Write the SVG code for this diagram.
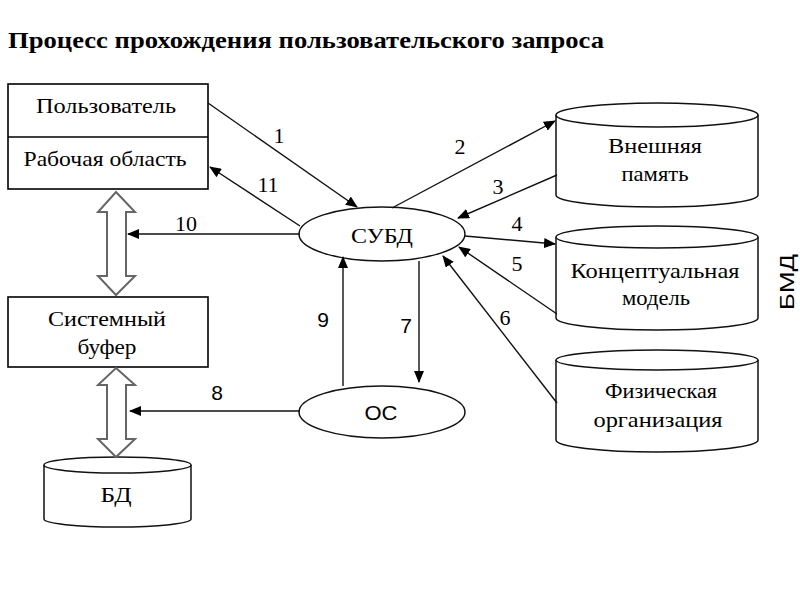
<svg xmlns="http://www.w3.org/2000/svg" width="800" height="600" viewBox="0 0 800 600" font-family="Liberation Serif, Times New Roman, serif">
<style>
.box{fill:#fff;stroke:#000;stroke-width:1.6}
.shape{fill:#fff;stroke:#111;stroke-width:1.5}
.t{font-size:22px;fill:#000;text-anchor:middle}
.s{font-family:Liberation Sans, Arial, sans-serif;font-size:21px;fill:#000;text-anchor:middle}
.conn{stroke:#111;stroke-width:1.4;fill:none}
.dbl{fill:#fff;stroke:#666;stroke-width:2}
</style>
<defs>
<marker id="ah" markerWidth="12" markerHeight="10" refX="11" refY="5" orient="auto" markerUnits="userSpaceOnUse">
<path d="M0,0 L12,5 L0,10 Z" fill="#000"/>
</marker>
</defs>
<rect width="800" height="600" fill="#fff"/>
<text x="8" y="48" font-weight="bold" font-size="23" textLength="596" lengthAdjust="spacingAndGlyphs">Процесс прохождения пользовательского запроса</text>

<g id="user">
<rect class="box" x="8" y="84" width="200" height="105"/>
<line x1="8" y1="137" x2="208" y2="137" stroke="#000" stroke-width="1.6"/>
<text class="t" x="106" y="113" textLength="140" lengthAdjust="spacingAndGlyphs">Пользователь</text>
<text class="t" x="105" y="166" textLength="163" lengthAdjust="spacingAndGlyphs">Рабочая область</text>
</g>

<g id="buffer">
<rect class="box" x="8" y="297" width="200" height="70"/>
<text class="t" x="107" y="326" textLength="118" lengthAdjust="spacingAndGlyphs">Системный</text>
<text class="t" x="107" y="354" textLength="59" lengthAdjust="spacingAndGlyphs">буфер</text>
</g>

<g id="bd">
<path class="shape" d="M44,465 L44,519 A73.5,8 0 0 0 191,519 L191,465"/>
<ellipse class="shape" cx="117.5" cy="465" rx="73.5" ry="8"/>
<text class="t" x="116" y="502" textLength="31" lengthAdjust="spacingAndGlyphs">БД</text>
</g>

<g id="subd">
<ellipse class="shape" cx="382" cy="234" rx="83" ry="27"/>
<text class="t" x="382" y="243" textLength="62" lengthAdjust="spacingAndGlyphs">СУБД</text>
</g>

<g id="os">
<ellipse class="shape" cx="382" cy="412" rx="83" ry="26"/>
<text class="s" x="381" y="420" textLength="33" lengthAdjust="spacingAndGlyphs">ОС</text>
</g>

<g id="ext">
<path class="shape" d="M556,115 L556,195 A101,12 0 0 0 758,195 L758,115"/>
<ellipse class="shape" cx="657" cy="115" rx="101" ry="12"/>
<text class="t" x="655" y="153" textLength="94" lengthAdjust="spacingAndGlyphs">Внешняя</text>
<text class="t" x="655" y="181" textLength="67" lengthAdjust="spacingAndGlyphs">память</text>
</g>

<g id="concept">
<path class="shape" d="M556,237 L556,318 A101,12 0 0 0 758,318 L758,237"/>
<ellipse class="shape" cx="657" cy="237" rx="101" ry="11"/>
<text class="t" x="655" y="278" textLength="169" lengthAdjust="spacingAndGlyphs">Концептуальная</text>
<text class="t" x="656" y="305" textLength="68" lengthAdjust="spacingAndGlyphs">модель</text>
</g>

<g id="phys">
<path class="shape" d="M556,360 L556,440 A101,12 0 0 0 758,440 L758,360"/>
<ellipse class="shape" cx="657" cy="360" rx="101" ry="10"/>
<text class="t" x="661" y="398" textLength="112" lengthAdjust="spacingAndGlyphs">Физическая</text>
<text class="t" x="658" y="427" textLength="129" lengthAdjust="spacingAndGlyphs">организация</text>
</g>

<g id="bmd">
<text class="s" transform="translate(794,282) rotate(-90)" font-size="28" textLength="56" lengthAdjust="spacingAndGlyphs">БМД</text>
</g>

<g id="connectors">
<path class="dbl" d="M116,192 L135,212 L126,212 L126,276 L135,276 L116,295 L98,276 L107,276 L107,212 L98,212 Z"/>
<path class="dbl" d="M116,368 L135,385 L126,385 L126,439 L135,439 L116,457 L98,439 L107,439 L107,385 L98,385 Z"/>
<line class="conn" x1="208" y1="103" x2="357" y2="207" marker-end="url(#ah)"/>
<line class="conn" x1="300" y1="226" x2="210" y2="167" marker-end="url(#ah)"/>
<line class="conn" x1="392" y1="208" x2="555" y2="121" marker-end="url(#ah)"/>
<line class="conn" x1="557" y1="175" x2="458" y2="218" marker-end="url(#ah)"/>
<line class="conn" x1="465" y1="236" x2="555" y2="244" marker-end="url(#ah)"/>
<line class="conn" x1="557" y1="314" x2="459" y2="247" marker-end="url(#ah)"/>
<line class="conn" x1="557" y1="403" x2="443" y2="256" marker-end="url(#ah)"/>
<line class="conn" x1="419" y1="261" x2="419" y2="382" marker-end="url(#ah)"/>
<line class="conn" x1="343" y1="386" x2="343" y2="257" marker-end="url(#ah)"/>
<line class="conn" x1="300" y1="234" x2="128" y2="234" marker-end="url(#ah)"/>
<line class="conn" x1="300" y1="411" x2="130" y2="411" marker-end="url(#ah)"/>
<text class="t" x="279" y="143">1</text>
<text class="t" x="460" y="154">2</text>
<text class="t" x="498" y="194">3</text>
<text class="t" x="517" y="231">4</text>
<text class="t" x="517" y="271">5</text>
<text class="t" x="505" y="325">6</text>
<text class="s" x="406" y="333">7</text>
<text class="s" x="217" y="400">8</text>
<text class="s" x="323" y="327">9</text>
<text class="t" x="186" y="231">10</text>
<text class="t" x="268" y="192">11</text>
</g>
</svg>
